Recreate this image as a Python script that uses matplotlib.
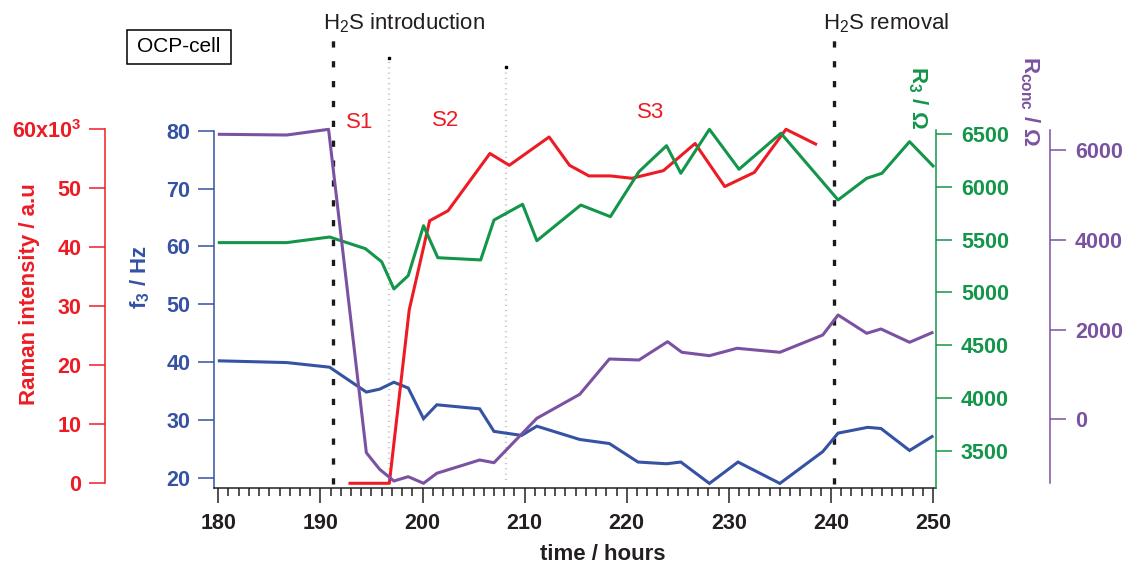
import matplotlib
matplotlib.use('Agg')
import matplotlib.pyplot as plt
from matplotlib.patches import Rectangle

plt.rcParams['font.family'] = ['Liberation Sans', 'DejaVu Sans']
plt.rcParams['lines.scale_dashes'] = False

# ---------------- data ----------------
f3_time = [180.1, 186.7, 190.9, 194.5, 195.8, 197.2, 198.6, 200.1, 201.4, 205.6, 207.0,
           209.7, 211.2, 215.4, 218.3, 221.1, 223.9, 225.3, 228.1, 230.9, 235.0, 239.2,
           240.7, 243.6, 244.9, 247.7, 249.9]
f3_hz = [40.2, 39.9, 39.1, 34.8, 35.3, 36.5, 35.5, 30.2, 32.6, 31.9, 28.0,
         27.3, 28.9, 26.6, 25.9, 22.7, 22.4, 22.7, 19.0, 22.7, 19.0, 24.5,
         27.7, 28.7, 28.5, 24.7, 27.1]

raman_time = [192.9, 196.75, 198.7, 200.7, 202.5, 206.6, 208.5, 212.4, 214.4, 216.3,
              218.4, 220.5, 223.6, 226.7, 229.6, 232.5, 235.6, 238.5]
raman_k = [0.0, 0.0, 29.4, 44.5, 46.2, 55.9, 53.9, 58.7, 53.9, 52.1,
           52.1, 51.7, 53.0, 57.6, 50.3, 52.7, 60.0, 57.5]

r3_time = [180.1, 186.7, 190.9, 194.4, 196.0, 197.2, 198.6, 200.1, 201.5, 205.7, 207.0,
           209.8, 211.2, 215.5, 218.4, 221.2, 223.9, 225.3, 228.1, 231.0, 235.1, 240.7,
           243.5, 245.0, 247.7, 250.0]
r3_ohm = [5471, 5471, 5524, 5414, 5290, 5032, 5158, 5631, 5328, 5307, 5685,
          5834, 5489, 5827, 5717, 6143, 6389, 6128, 6544, 6166, 6507, 5875,
          6080, 6128, 6427, 6197]

rconc_time = [180.1, 186.7, 190.8, 194.5, 195.8, 197.2, 198.6, 200.1, 201.4, 205.6, 207.0,
              211.2, 215.4, 218.3, 221.2, 224.0, 225.4, 228.1, 230.8, 235.0, 239.2,
              240.7, 243.5, 244.9, 247.7, 249.9]
rconc_ohm = [6350, 6334, 6461, -744, -1114, -1375, -1279, -1426, -1203, -907, -967,
             22, 557, 1343, 1321, 1729, 1493, 1417, 1582, 1493, 1878,
             2324, 1916, 2012, 1716, 1929]

h2s_events = [191.2, 240.3]
h2s_labels = ['H$_\\mathregular{2}$S introduction', 'H$_\\mathregular{2}$S removal']
stage_bounds = [196.7, 208.2]
stage_labels = ['S1', 'S2', 'S3']

raman_ticks = [0, 10, 20, 30, 40, 50, 60]
raman_ticklabels = ['0', '10', '20', '30', '40', '50', '60x10$^\\mathregular{3}$']
f3_ticks = [20, 30, 40, 50, 60, 70, 80]
r3_ticks = [3500, 4000, 4500, 5000, 5500, 6000, 6500]
rconc_ticks = [0, 2000, 4000, 6000]
x_ticks = [180, 190, 200, 210, 220, 230, 240, 250]

# ---------------- style ----------------
RED = '#ed1c24'
BLUE = '#3552a3'
GREEN = '#13954a'
PURPLE = '#7b52a1'
DARK = '#231f20'
W, H = 1137, 570
LW = 2.2
TFS = 15.5
LFS = 16


def fx(px):
    return px / W


def fy(py):
    return 1 - py / H


fig = plt.figure(figsize=(W / 100, H / 100), dpi=100)
ax_l, ax_r, ax_t, ax_b = 214, 936, 40, 488
ax = fig.add_axes([fx(ax_l), fy(ax_b), (ax_r - ax_l) / W, (ax_b - ax_t) / H])
ax.patch.set_visible(False)

ax.set_xlim(179.58, 250.29)
ax.set_ylim(18.21, 95.68)

# main axis (blue f3)
for s in ['top', 'right']:
    ax.spines[s].set_visible(False)
ax.spines['left'].set_color(BLUE)
ax.spines['left'].set_linewidth(1.1)
ax.spines['left'].set_bounds(18.21, 80)
ax.spines['bottom'].set_color(DARK)
ax.spines['bottom'].set_linewidth(1.1)
ax.set_yticks(f3_ticks)
ax.tick_params(axis='y', colors=BLUE, length=11.5, width=1.1, pad=5.5, labelsize=TFS)
for t in ax.get_yticklabels():
    t.set_fontweight('bold')
ax.set_xticks(x_ticks)
ax.set_xticks(range(180, 251), minor=True)
ax.tick_params(axis='x', which='major', length=11, width=1.1, colors=DARK, pad=7, labelsize=TFS)
ax.tick_params(axis='x', which='minor', length=5.8, width=1.1, colors=DARK)
for t in ax.get_xticklabels():
    t.set_fontweight('bold')

# vertical event lines
for t in h2s_events:
    ax.axvline(t, ymin=0.01, ymax=1.0, color='#1a1a1a', lw=2.4,
               linestyle=(0, (4.5, 9.8)), clip_on=False, zorder=1)
tops = [0.96, 0.94]
for t, top in zip(stage_bounds, tops):
    ax.axvline(t, ymin=0.018, ymax=top, color='#c4c4c4', lw=1.6,
               linestyle=(0, (0.8, 3.0)), zorder=1)
    ax.plot([t], [ax.get_ylim()[0] + top * (ax.get_ylim()[1] - ax.get_ylim()[0])],
            marker='s', ms=2, color='black', zorder=1, clip_on=False)

ax.plot(f3_time, f3_hz, color=BLUE, lw=LW, zorder=3, solid_joinstyle='miter')

# red Raman axis
axr = ax.twinx()
axr.patch.set_visible(False)
axr.set_ylim(-0.80, 75.14)
for s in ['top', 'right', 'bottom']:
    axr.spines[s].set_visible(False)
axr.spines['left'].set_visible(True)
axr.spines['left'].set_position(('axes', (105 - ax_l) / (ax_r - ax_l)))
axr.spines['left'].set_color(RED)
axr.spines['left'].set_linewidth(1.1)
axr.spines['left'].set_bounds(0, 60)
axr.yaxis.set_ticks_position('left')
axr.yaxis.set_label_position('left')
axr.set_yticks(raman_ticks)
axr.set_yticklabels(raman_ticklabels)
axr.tick_params(axis='y', colors=RED, length=11.5, width=1.1, pad=5.5, labelsize=TFS)
for t in axr.get_yticklabels():
    t.set_fontweight('bold')
axr.plot(raman_time, raman_k, color=RED, lw=LW, zorder=3)

# green R3 axis
axg = ax.twinx()
axg.patch.set_visible(False)
axg.set_ylim(3147, 7390)
for s in ['top', 'left', 'bottom']:
    axg.spines[s].set_visible(False)
axg.spines['right'].set_color(GREEN)
axg.spines['right'].set_linewidth(1.1)
axg.spines['right'].set_bounds(3147, 6538)
axg.set_yticks(r3_ticks)
axg.tick_params(axis='y', colors=GREEN, length=11.5, width=1.1, pad=6.5, labelsize=TFS)
for t in axg.get_yticklabels():
    t.set_fontweight('bold')
axg.plot(r3_time, r3_ohm, color=GREEN, lw=LW, zorder=3)

# purple Rconc axis
axp = ax.twinx()
axp.patch.set_visible(False)
axp.set_ylim(-1531, 8451)
for s in ['top', 'left', 'bottom']:
    axp.spines[s].set_visible(False)
axp.spines['right'].set_position(('axes', (1050 - ax_l) / (ax_r - ax_l)))
axp.spines['right'].set_color(PURPLE)
axp.spines['right'].set_linewidth(1.1)
axp.spines['right'].set_bounds(-1426, 6446)
axp.set_yticks(rconc_ticks)
axp.tick_params(axis='y', colors=PURPLE, length=11.5, width=1.1, pad=6.5, labelsize=TFS)
for t in axp.get_yticklabels():
    t.set_fontweight('bold')
axp.plot(rconc_time, rconc_ohm, color=PURPLE, lw=LW, zorder=3)

# axis titles
fig.text(fx(30), fy(294), 'Raman intensity / a.u', color=RED, fontsize=LFS, fontweight='bold',
         rotation=90, ha='center', va='center')
fig.text(fx(140), fy(277), 'f$_\\mathregular{3}$ / Hz', color=BLUE, fontsize=LFS, fontweight='bold',
         rotation=90, ha='center', va='center')
fig.text(fx(918), fy(97), 'R$_\\mathregular{3}$ / \u03a9', color=GREEN, fontsize=LFS, fontweight='bold',
         rotation=-90, ha='center', va='center')
fig.text(fx(1030), fy(101), 'R$_\\mathregular{conc}$ / \u03a9', color=PURPLE, fontsize=LFS, fontweight='bold',
         rotation=-90, ha='center', va='center')
fig.text(fx(603), fy(555), 'time / hours', color=DARK, fontsize=LFS, fontweight='bold',
         ha='center', va='center')

# annotations
fig.text(fx(323), fy(29), h2s_labels[0], fontsize=LFS, color=DARK, ha='left', va='baseline')
fig.text(fx(823), fy(29), h2s_labels[1], fontsize=LFS, color=DARK, ha='left', va='baseline')
for lab, (px, py) in zip(stage_labels, [(360, 123), (446, 120), (651, 113)]):
    fig.text(fx(px), fy(py), lab, fontsize=LFS, color=RED, ha='center', va='center')

fig.add_artist(Rectangle((fx(127), fy(64)), 104 / W, 34 / H, transform=fig.transFigure,
                         fill=False, lw=1.1, edgecolor='black'))
fig.text(fx(179), fy(47), 'OCP-cell', fontsize=15, color='black', ha='center', va='center')

fig.savefig('out.png', dpi=100)
